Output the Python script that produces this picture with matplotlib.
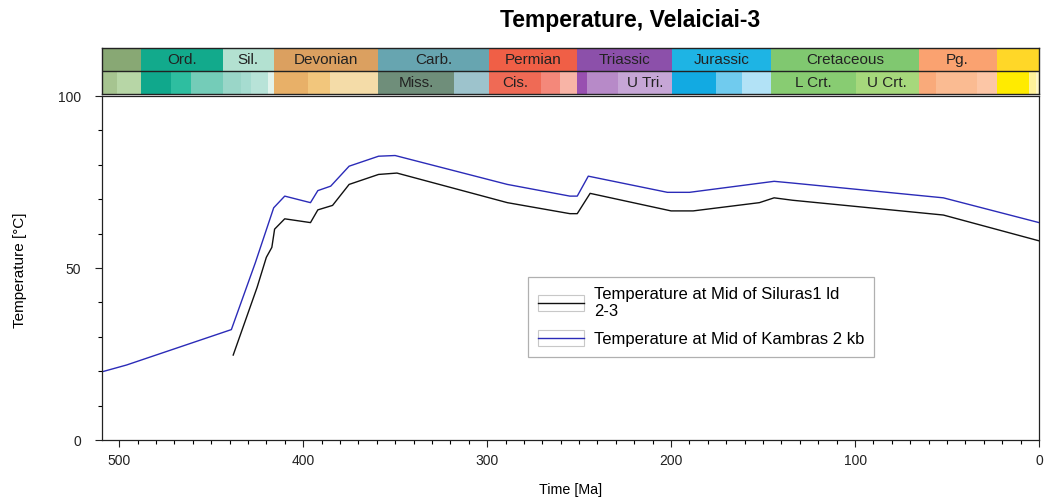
import matplotlib
matplotlib.use("Agg")
import matplotlib.pyplot as plt
from matplotlib.ticker import MultipleLocator
from matplotlib.legend_handler import HandlerLine2D
from matplotlib.patches import Rectangle

plt.rcParams['font.family'] = ['Liberation Sans', 'DejaVu Sans']

# temperature histories (age in Ma, temperature in degC)
kambras_age = [509.5, 496, 439, 426, 416, 410, 396, 392, 385, 375, 359, 350,
               289, 255, 251, 245, 202, 190, 144, 134, 52, 0]
kambras_temp = [19.8, 21.8, 32.1, 51.5, 67.5, 70.9, 69.0, 72.5, 73.8, 79.6, 82.5, 82.7,
                74.3, 70.9, 70.9, 76.7, 72.0, 72.0, 75.2, 74.7, 70.4, 63.2]

siluras_age = [438, 425, 420, 417, 415.5, 410, 396, 392, 384, 375, 359, 349,
               289, 255, 251, 244, 200, 188, 152, 144, 134, 52, 0]
siluras_temp = [24.7, 44.4, 53.1, 56.0, 61.3, 64.3, 63.2, 66.9, 68.2, 74.3, 77.2, 77.6,
                69.0, 65.8, 65.8, 71.7, 66.6, 66.6, 69.0, 70.4, 69.7, 65.4, 57.9]

# geologic time scale - periods (top row)
period_label = ['', 'Ord.', 'Sil.', 'Devonian', 'Carb.', 'Permian', 'Triassic',
                'Jurassic', 'Cretaceous', 'Pg.', '']
period_start = [542.0, 488.3, 443.7, 416.0, 359.2, 299.0, 251.0, 199.6, 145.5, 65.5, 23.03]
period_end = [488.3, 443.7, 416.0, 359.2, 299.0, 251.0, 199.6, 145.5, 65.5, 23.03, 0.0]
period_color = ['#88a874', '#12aa8c', '#b3e1d1', '#dba060', '#67a5b0', '#f05f46',
                '#8c50aa', '#1eb4e4', '#80c870', '#faa270', '#ffd728']

# epochs (bottom row)
epoch_label = ['', '', '', '', '', '', '', '', '', '', '', '', 'Miss.', '',
               'Cis.', '', '', '', '', 'U Tri.', '', '', '', 'L Crt.', 'U Crt.',
               '', '', '', '', '', '']
epoch_start = [513.0, 501.0, 488.3, 471.8, 460.9, 443.7, 434.0, 428.2, 419.0,
               416.0, 397.5, 385.3, 359.2, 318.1, 299.0, 270.6, 260.4, 251.0,
               245.9, 228.7, 199.6, 175.6, 161.2, 145.5, 99.6, 65.5, 55.8, 33.9,
               23.03, 5.33, 1.81]
epoch_end = epoch_start[1:] + [0.0]
epoch_color = ['#a6c490', '#b7d6a6', '#10a88c', '#2ebea0', '#74ccb8', '#9ad6c8',
               '#a6dcd0', '#b8e3d8', '#e2f3ec', '#e8b068', '#f2c67c', '#f4dca8',
               '#6f8e7a', '#9dc3cc', '#ef6a55', '#f4887a', '#f8b4a6', '#9850b0',
               '#b78ac8', '#c6a6d6', '#12aae2', '#70cbee', '#b2e2f6', '#88cc72',
               '#a6d87c', '#f9aa7a', '#fabb92', '#fcc6a6', '#ffeb00', '#fff29a',
               '#fff7c6']


class BoxedLine(HandlerLine2D):
    # legend sample drawn inside a small grey box, like the original software
    def create_artists(self, legend, orig_handle, xdescent, ydescent, width,
                       height, fontsize, trans):
        arts = super().create_artists(legend, orig_handle, xdescent, ydescent,
                                      width, height, fontsize, trans)
        box = Rectangle((-xdescent, -ydescent - 0.2 * height), width, height * 1.4,
                        facecolor='none', edgecolor='#c8c8c8', lw=0.8, transform=trans)
        return [box] + list(arts)


fig = plt.figure(figsize=(10.47, 4.99), dpi=100)
ax = fig.add_axes([0.0971, 0.1182, 0.8953, 0.6894])
strat = fig.add_axes([0.0971, 0.8116, 0.8953, 0.0922], sharex=ax)

ax.plot(siluras_age, siluras_temp, color='#111111', lw=1.0,
        label='Temperature at Mid of Siluras1 ld\n2-3')
ax.plot(kambras_age, kambras_temp, color='#2b2bb8', lw=1.0,
        label='Temperature at Mid of Kambras 2 kb')

ax.set_xlim(509.5, 0)
ax.set_ylim(0, 100)
ax.xaxis.set_major_locator(MultipleLocator(100))
ax.xaxis.set_minor_locator(MultipleLocator(10))
ax.yaxis.set_major_locator(MultipleLocator(50))
ax.yaxis.set_minor_locator(MultipleLocator(10))
ax.tick_params(which='major', direction='out', length=5, width=0.8, labelsize=10,
               colors='#222222')
ax.tick_params(which='minor', direction='out', length=3, width=0.8)
ax.tick_params(axis='x', which='major', pad=5)
ax.tick_params(axis='y', which='major', pad=10)
for s in ax.spines.values():
    s.set_linewidth(0.9)
    s.set_color('#222222')

ax.set_xlabel('Time [Ma]', fontsize=10.3)
ax.set_ylabel('Temperature [°C]', fontsize=11)
ax.xaxis.set_label_coords(0.5, -0.125)
ax.yaxis.set_label_coords(-0.08, 0.494)

leg = ax.legend(loc='upper left', bbox_to_anchor=(0.455, 0.474), fontsize=12,
                handler_map={plt.Line2D: BoxedLine()}, handlelength=2.75,
                handletextpad=0.6, fancybox=False, framealpha=1,
                borderpad=0.6, labelspacing=0.75, borderaxespad=0)
leg.get_frame().set_edgecolor('#b0b0b0')
leg.get_frame().set_linewidth(0.9)

# stratigraphic chart
for st, en, c, lab in zip(period_start, period_end, period_color, period_label):
    strat.barh(1.5, st - en, left=en, height=1.0, color=c, lw=0)
    if lab:
        mid = max(min((st + en) / 2, 509.5), 0)
        strat.text(mid, 1.5, lab, ha='center', va='center', fontsize=11, color='#222222')
for st, en, c, lab in zip(epoch_start, epoch_end, epoch_color, epoch_label):
    strat.barh(0.5, st - en, left=en, height=1.0, color=c, lw=0)
    if lab:
        strat.text((st + en) / 2, 0.5, lab, ha='center', va='center', fontsize=11,
                   color='#222222')
strat.axhline(1.0, color='#222222', lw=1.0)
strat.set_ylim(0, 2)
strat.set_xlim(509.5, 0)
strat.set_yticks([])
strat.tick_params(axis='x', which='both', bottom=False, labelbottom=False)
for s in strat.spines.values():
    s.set_linewidth(1.0)
    s.set_color('#222222')

fig.text(0.602, 0.958, 'Temperature, Velaiciai-3', ha='center', va='center',
         fontsize=16.5, fontweight='bold')

fig.savefig('out.png', dpi=100)
